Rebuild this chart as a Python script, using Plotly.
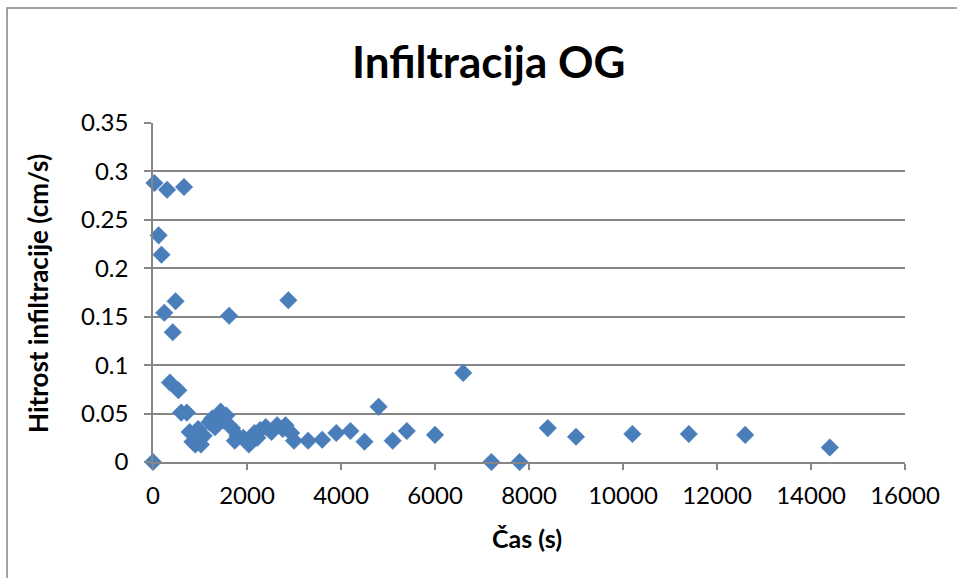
import plotly.graph_objects as go

time_s = [0, 30, 120, 180, 240, 300, 360, 420, 480, 540, 600, 660, 720, 780, 840,
          900, 960, 1020, 1080, 1200, 1260, 1320, 1380, 1440, 1500, 1560, 1620,
          1680, 1740, 1800, 1920, 2040, 2100, 2160, 2220, 2280, 2400, 2520, 2640,
          2760, 2820, 2880, 2940, 3000, 3300, 3600, 3900, 4200, 4500, 4800, 5100,
          5400, 6000, 6600, 7200, 7800, 8400, 9000, 10200, 11400, 12600, 14400]
rate = [0, 0.288, 0.234, 0.214, 0.154, 0.281, 0.082, 0.134, 0.166, 0.074, 0.051,
        0.284, 0.051, 0.031, 0.021, 0.018, 0.034, 0.018, 0.027, 0.041, 0.045,
        0.036, 0.040, 0.052, 0.043, 0.048, 0.151, 0.035, 0.022, 0.027, 0.025,
        0.018, 0.024, 0.030, 0.025, 0.033, 0.036, 0.031, 0.038, 0.034, 0.038,
        0.167, 0.030, 0.022, 0.022, 0.023, 0.030, 0.032, 0.021, 0.057, 0.022,
        0.032, 0.028, 0.092, 0, 0, 0.035, 0.026, 0.029, 0.029, 0.028, 0.015]

title_text = "Infiltracija OG"
x_title = "Čas (s)"
y_title = "Hitrost infiltracije (cm/s)"

FONT = "Lato"
GRID = "#868686"

fig = go.Figure()
fig.add_trace(go.Scatter(
    x=time_s, y=rate, mode="markers", cliponaxis=False,
    marker=dict(symbol="diamond", size=13.5, color="#4A7EBB",
                line=dict(width=0.5, color="#4A7EBB")),
    showlegend=False,
))

fig.update_layout(
    width=957, height=578,
    paper_bgcolor="white", plot_bgcolor="white",
    margin=dict(l=153, r=52, t=123, b=116),
    font=dict(family=FONT, size=24, color="black"),
    shapes=[dict(type="rect", xref="paper", yref="paper",
                 x0=-0.1941, x1=1.3, y0=-0.5, y1=1.3392,
                 line=dict(color="#868686", width=1.5), fillcolor="rgba(0,0,0,0)",
                 layer="below")],
    annotations=[
        dict(text="<b>" + title_text + "</b>", xref="paper", yref="paper",
             x=0.4455, y=1.184, xanchor="center", yanchor="middle", showarrow=False,
             font=dict(family=FONT, size=44, color="black")),
        dict(text="<b>" + x_title + "</b>", xref="paper", yref="paper",
             x=0.497, y=-0.224, xanchor="center", yanchor="middle", showarrow=False,
             font=dict(family=FONT, size=25, color="black")),
        dict(text="<b>" + y_title + "</b>", xref="paper", yref="paper",
             x=-0.153, y=0.4985, xanchor="center", yanchor="middle", showarrow=False,
             textangle=-90, font=dict(family=FONT, size=26, color="black")),
    ],
)
fig.update_xaxes(
    range=[0, 16000], dtick=2000, tick0=0, tickformat="d",
    showgrid=False, zeroline=False,
    showline=True, linecolor=GRID, linewidth=1.5,
    ticks="outside", ticklen=6, tickcolor=GRID, tickwidth=1.5,
    ticklabelstandoff=5,
    tickfont=dict(family=FONT, size=24),
)
fig.update_yaxes(
    range=[0, 0.35], dtick=0.05, tick0=0,
    showgrid=True, gridcolor=GRID, gridwidth=1.5, zeroline=False,
    showline=True, linecolor=GRID, linewidth=1.5,
    ticks="outside", ticklen=7, tickcolor=GRID, tickwidth=1.5,
    ticklabelstandoff=11,
    tickfont=dict(family=FONT, size=24),
)

fig.write_html("out.html", config={"displayModeBar": False},
               post_script="document.body.style.margin='0';")
